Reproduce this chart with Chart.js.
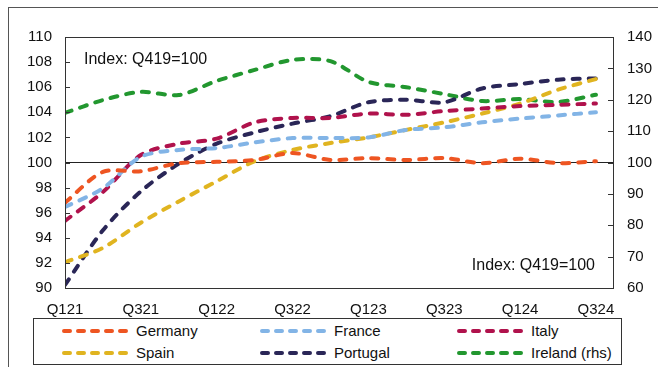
<!DOCTYPE html>
<html>
<head>
<meta charset="utf-8">
<script src="https://cdn.jsdelivr.net/npm/chart.js@4.4.1/dist/chart.umd.min.js"></script>
<style>
  html, body { margin: 0; padding: 0; background: #fff; }
  #wrap { position: relative; width: 658px; height: 367px; overflow: hidden;
          font-family: "Liberation Sans", Arial, sans-serif; color: #111; }
  #frame { position: absolute; left: 8px; top: 7px; width: 700px; height: 400px;
           border-top: 1px solid #555; border-left: 1px solid #555; }
  canvas { position: absolute; left: 0; top: 0; }
  .note { position: absolute; font-size: 16px; line-height: 16px; white-space: nowrap; }
  #legend { position: absolute; left: 33px; top: 318px; width: 587px; height: 45px;
            border: 1px solid #333; background: #fff; }
  .item { position: absolute; display: flex; align-items: center; font-size: 15px; line-height: 16px; white-space: nowrap; }
  .item svg { margin-right: 6px; }
</style>
</head>
<body>
<div id="wrap">
  <div id="frame"></div>
  <canvas id="chart" width="658" height="367"></canvas>
  <div class="note" style="left:84px; top:51px;">Index: Q419=100</div>
  <div class="note" style="right:63px; top:257px;">Index: Q419=100</div>
  <div id="legend"></div>
</div>
<script>
// Quarterly index levels, Q4 2019 = 100
const quarters = ['Q121','Q221','Q321','Q421','Q122','Q222','Q322','Q422',
                  'Q123','Q223','Q323','Q423','Q124','Q224','Q324'];
const germany  = [96.8, 99.25, 99.3, 99.95, 100.05, 100.2, 100.75, 100.2, 100.35, 100.2, 100.35, 99.95, 100.3, 99.95, 100.1];
const france   = [96.45, 97.95, 100.45, 101.0, 101.15, 101.6, 101.95, 101.95, 102.0, 102.6, 102.8, 103.2, 103.5, 103.75, 104.0];
const italy    = [95.35, 97.65, 100.6, 101.5, 101.9, 103.2, 103.55, 103.55, 103.9, 103.8, 104.1, 104.3, 104.5, 104.6, 104.7];
const spain    = [92.05, 93.2, 95.2, 96.9, 98.5, 100.1, 101.0, 101.55, 102.0, 102.6, 103.2, 103.9, 104.7, 105.8, 106.65];
const portugal = [90.25, 94.6, 97.7, 99.9, 101.5, 102.4, 103.1, 103.7, 104.8, 105.0, 104.8, 105.9, 106.25, 106.6, 106.7];
const ireland  = [115.8, 119.9, 122.5, 121.5, 126.0, 129.5, 132.7, 132.3, 125.7, 124.0, 121.8, 119.6, 120.2, 119.3, 121.6];

// Axis tick labels
const xTickLabels = ['Q121','Q321','Q122','Q322','Q123','Q323','Q124','Q324'];
const leftTicks  = [90, 92, 94, 96, 98, 100, 102, 104, 106, 108, 110];
const rightTicks = [60, 70, 80, 90, 100, 110, 120, 130, 140];

const series = [
  { label: 'Germany',       values: germany,  color: '#EE5522', axis: 'y'  },
  { label: 'France',        values: france,   color: '#82B4E6', axis: 'y'  },
  { label: 'Italy',         values: italy,    color: '#B0124C', axis: 'y'  },
  { label: 'Spain',         values: spain,    color: '#E0B420', axis: 'y'  },
  { label: 'Portugal',      values: portugal, color: '#2A2657', axis: 'y'  },
  { label: 'Ireland (rhs)', values: ireland,  color: '#22972F', axis: 'y1' }
];

const DASH = [7, 9];
const FONT = { family: '"Liberation Sans", Arial, sans-serif', size: 15 };

// Plot frame plus short inward tick marks on both value axes
const framePlugin = {
  id: 'frame',
  afterDatasetsDraw(chart) {
    const { ctx, chartArea: a, scales } = chart;
    ctx.save();
    ctx.strokeStyle = '#333';
    ctx.lineWidth = 1;
    ctx.strokeRect(Math.round(a.left) + 0.5, Math.round(a.top) + 0.5,
                   Math.round(a.right - a.left), Math.round(a.bottom - a.top));
    ctx.beginPath();
    scales.y.ticks.forEach(t => {
      const py = Math.round(scales.y.getPixelForValue(t.value)) + 0.5;
      ctx.moveTo(a.left, py); ctx.lineTo(a.left + 5, py);
    });
    scales.y1.ticks.forEach(t => {
      const py = Math.round(scales.y1.getPixelForValue(t.value)) + 0.5;
      ctx.moveTo(a.right - 5, py); ctx.lineTo(a.right, py);
    });
    ctx.stroke();
    ctx.restore();
  }
};

new Chart(document.getElementById('chart'), {
  type: 'line',
  data: {
    datasets: series.map(s => ({
      label: s.label,
      data: s.values.map((v, i) => ({ x: i, y: v })),
      yAxisID: s.axis,
      borderColor: s.color,
      backgroundColor: s.color,
      borderWidth: 4,
      borderDash: DASH,
      borderCapStyle: 'round',
      tension: 0.3,
      pointRadius: 0,
      fill: false
    }))
  },
  options: {
    responsive: false,
    animation: false,
    layout: { padding: { top: 37, left: 0, right: 0, bottom: 0 } },
    plugins: { legend: { display: false }, tooltip: { enabled: false } },
    scales: {
      x: {
        type: 'linear',
        min: 0,
        max: 14.45,
        grid: { display: false, drawTicks: false },
        border: { display: false },
        afterFit(scale) { scale.height = 79; },
        afterBuildTicks(scale) {
          scale.ticks = xTickLabels.map((_, i) => ({ value: i * 2 }));
        },
        ticks: {
          autoSkip: false, maxRotation: 0, padding: 13,
          color: '#111', font: FONT,
          callback: v => xTickLabels[v / 2]
        }
      },
      y: {
        position: 'left',
        min: leftTicks[0],
        max: leftTicks[leftTicks.length - 1],
        afterFit(scale) { scale.width = 65; },
        afterBuildTicks(scale) { scale.ticks = leftTicks.map(v => ({ value: v })); },
        grid: {
          drawTicks: false,
          color: c => (c.tick && c.tick.value === 100) ? '#222' : 'rgba(0,0,0,0)',
          lineWidth: 1
        },
        border: { display: false },
        ticks: { padding: 13, color: '#111', font: FONT }
      },
      y1: {
        position: 'right',
        min: rightTicks[0],
        max: rightTicks[rightTicks.length - 1],
        afterFit(scale) { scale.width = 45; },
        afterBuildTicks(scale) { scale.ticks = rightTicks.map(v => ({ value: v })); },
        grid: { display: false, drawTicks: false },
        border: { display: false },
        ticks: { padding: 14, color: '#111', font: FONT }
      }
    }
  },
  plugins: [framePlugin]
});

// Legend: three columns, two rows
const legend = document.getElementById('legend');
const colX = [28, 226, 423];
const rowY = [4, 26];
series.forEach((s, i) => {
  const item = document.createElement('div');
  item.className = 'item';
  item.style.left = colX[i % 3] + 'px';
  item.style.top = rowY[Math.floor(i / 3)] + 'px';
  item.innerHTML =
    '<svg width="68" height="16"><line x1="2" y1="8" x2="66" y2="8" stroke="' + s.color +
    '" stroke-width="4" stroke-linecap="round" stroke-dasharray="6 8"/></svg>' +
    '<span>' + s.label + '</span>';
  legend.appendChild(item);
});
</script>
</body>
</html>
